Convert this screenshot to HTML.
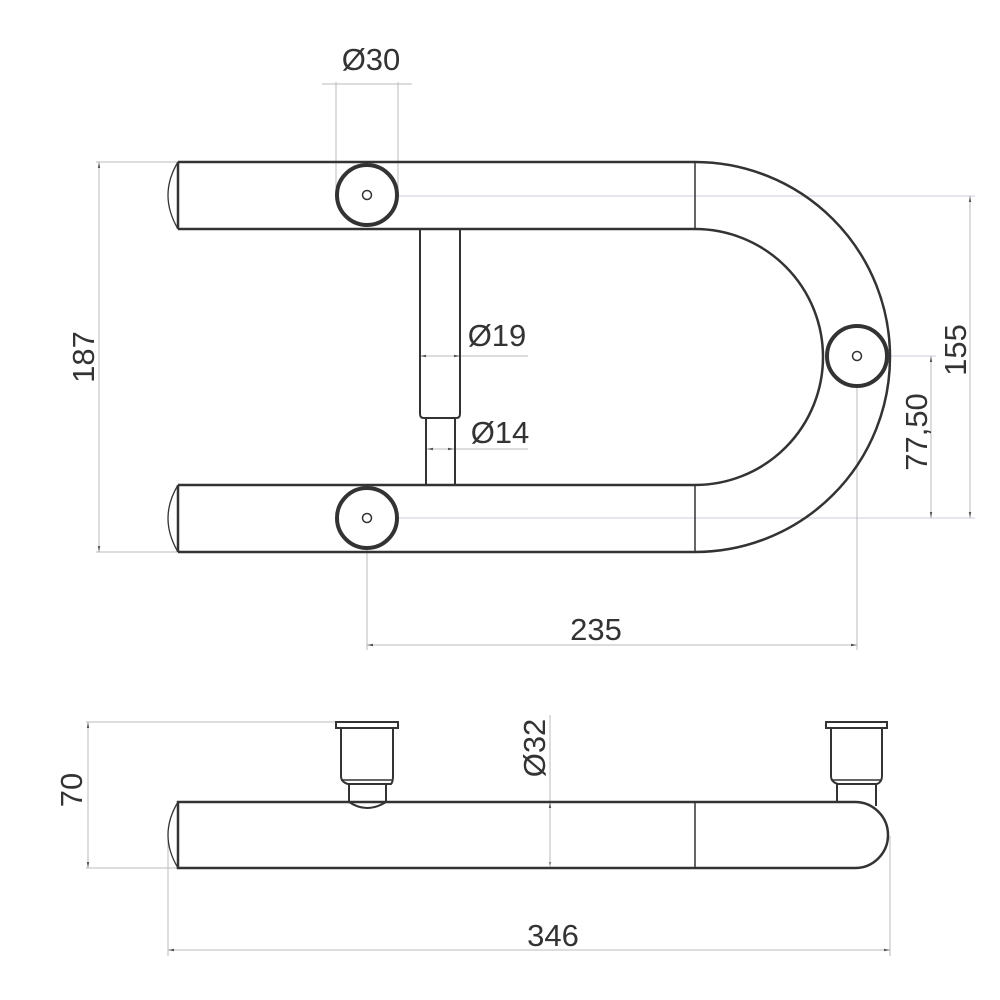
<!DOCTYPE html>
<html><head><meta charset="utf-8"><style>
html,body{margin:0;padding:0;background:#fff;}
svg{display:block}
text{font-family:"Liberation Sans Narrow","Liberation Sans",sans-serif;font-size:31px;fill:#333;}
</style></head><body>
<svg width="1000" height="1000" viewBox="0 0 1000 1000" xmlns="http://www.w3.org/2000/svg">
<defs>
<marker id="a" viewBox="0 0 10 10" refX="10" refY="5" markerWidth="6" markerHeight="6" orient="auto-start-reverse"><path d="M0,3 L10,5 L0,7 z" fill="#555"/></marker>
</defs>
<g stroke="#bbb" stroke-width="1" fill="none">
<!-- 187 -->
<line x1="96" y1="162" x2="178" y2="162"/><line x1="96" y1="552" x2="178" y2="552"/>
<line x1="99" y1="162" x2="99" y2="552" marker-start="url(#a)" marker-end="url(#a)"/>
<!-- Ø30 -->
<line x1="336" y1="82" x2="336" y2="195"/><line x1="398" y1="82" x2="398" y2="195"/>
<line x1="322" y1="84" x2="412" y2="84"/>
<!-- 155/77.5 -->
<line x1="367" y1="196" x2="975" y2="196" stroke="#ccd"/>
<line x1="367" y1="518" x2="975" y2="518" stroke="#ccd"/>
<line x1="857" y1="356" x2="936" y2="356" stroke="#ccd"/>
<line x1="970" y1="196" x2="970" y2="518" marker-start="url(#a)" marker-end="url(#a)"/>
<line x1="931" y1="356" x2="931" y2="518" marker-start="url(#a)" marker-end="url(#a)"/>
<!-- 235 -->
<line x1="367" y1="518" x2="367" y2="650"/><line x1="857" y1="356" x2="857" y2="650"/>
<line x1="367" y1="645" x2="857" y2="645" marker-start="url(#a)" marker-end="url(#a)"/>
<!-- Ø19 Ø14 -->
<line x1="420" y1="356" x2="460" y2="356" marker-start="url(#a)" marker-end="url(#a)"/>
<line x1="460" y1="356" x2="528" y2="356"/>
<line x1="427" y1="449" x2="454" y2="449" marker-start="url(#a)" marker-end="url(#a)"/>
<line x1="454" y1="449" x2="528" y2="449"/>
<!-- 70 -->
<line x1="86" y1="722" x2="336" y2="722"/><line x1="86" y1="868" x2="178" y2="868"/>
<line x1="88" y1="722" x2="88" y2="868" marker-start="url(#a)" marker-end="url(#a)"/>
<!-- Ø32 -->
<line x1="550" y1="715" x2="550" y2="868" marker-end="url(#a)"/>
<line x1="550" y1="802" x2="550" y2="868" marker-start="url(#a)"/>
<!-- 346 -->
<line x1="168" y1="836" x2="168" y2="956"/><line x1="890" y1="836" x2="890" y2="956"/>
<line x1="168" y1="950" x2="890" y2="950" marker-start="url(#a)" marker-end="url(#a)"/>
</g>
<g stroke="#333" stroke-width="2.5" fill="none">
<!-- top view tube -->
<path d="M178,162 L695,162 A195,195 0 0 1 695,552 L178,552"/>
<path d="M178,229 L695,229 A128,128 0 0 1 695,485 L178,485"/>
<line x1="178" y1="162" x2="178" y2="229"/><line x1="178" y1="485" x2="178" y2="552"/>
<line x1="695" y1="162" x2="695" y2="229" stroke-width="1.5"/><line x1="695" y1="485" x2="695" y2="552" stroke-width="1.5"/>
<path d="M178,162 Q158,195 178,229" stroke-width="1.3"/>
<path d="M178,485 Q158,518 178,552" stroke-width="1.3"/>
<!-- circles -->
<circle cx="367" cy="195" r="30" stroke-width="4" fill="#fff"/>
<circle cx="367" cy="518" r="30" stroke-width="4" fill="#fff"/>
<circle cx="857" cy="356" r="30" stroke-width="4" fill="#fff"/>
<circle cx="367" cy="195" r="4.5" stroke-width="1.5"/>
<circle cx="367" cy="518" r="4.5" stroke-width="1.5"/>
<circle cx="857" cy="356" r="4.5" stroke-width="1.5"/>
<!-- central bar -->
<path d="M420,229 L420,414 Q420,418 424,418 L456,418 Q460,418 460,414 L460,229" stroke-width="2"/>
<path d="M426,418 L426,485 M455,418 L455,485" stroke-width="2"/>
<!-- bottom view -->
<path d="M178,802 L855,802 A33,33 0 0 1 855,868 L178,868 Z"/>
<path d="M178,802 Q158,835 178,868" stroke-width="1.3"/>
<line x1="695" y1="802" x2="695" y2="868" stroke-width="1.5"/>
<!-- left cup -->
<rect x="336" y="722" width="62" height="6" stroke-width="2"/>
<path d="M341,728 L341,776 Q341,782 348,784 L391,784 Q393,782 393,776 L393,728" stroke-width="2"/>
<line x1="341" y1="780" x2="393" y2="780" stroke-width="1.5"/>
<path d="M349,784 L349,802 Q367,814 386,802 L386,784" stroke-width="2"/>
<!-- right cup -->
<rect x="826" y="722" width="61" height="6" stroke-width="2"/>
<path d="M831,728 L831,776 Q831,782 838,784 L877,784 Q882,782 882,776 L882,728" stroke-width="2"/>
<line x1="831" y1="780" x2="882" y2="780" stroke-width="1.5"/>
<path d="M837,784 L837,802 M876,784 L876,806" stroke-width="2"/>
</g>
<text x="371" y="70" text-anchor="middle">Ø30</text>
<text x="497" y="346" text-anchor="middle">Ø19</text>
<text x="500" y="443" text-anchor="middle">Ø14</text>
<text x="596" y="640" text-anchor="middle">235</text>
<text x="553" y="946" text-anchor="middle">346</text>
<text transform="translate(94,357) rotate(-90)" text-anchor="middle">187</text>
<text transform="translate(966,350) rotate(-90)" text-anchor="middle">155</text>
<text transform="translate(927,432) rotate(-90)" text-anchor="middle">77,50</text>
<text transform="translate(82,790) rotate(-90)" text-anchor="middle">70</text>
<text transform="translate(545,748) rotate(-90)" text-anchor="middle">Ø32</text>
</svg>
</body></html>
